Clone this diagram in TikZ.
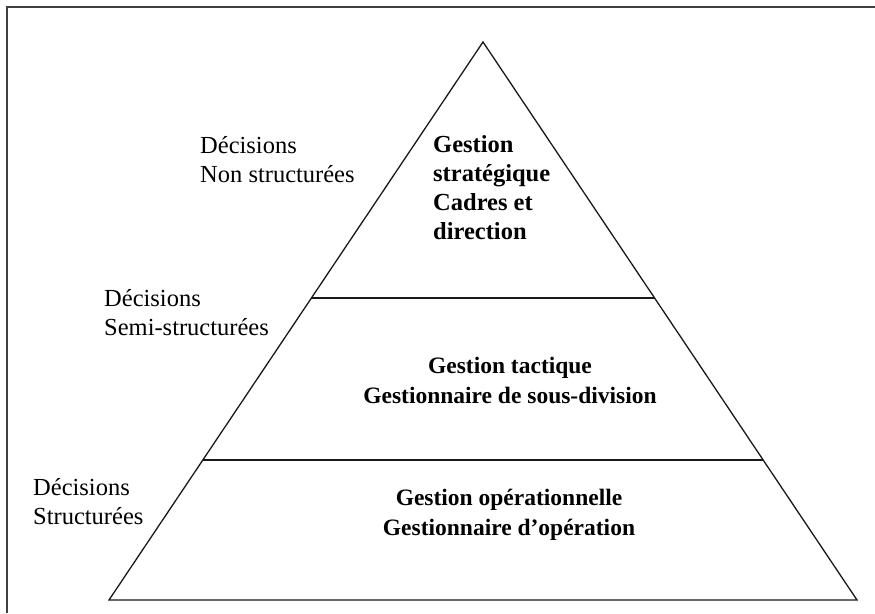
\documentclass[tikz,border=0pt]{standalone}
\usepackage{fontspec}
\setmainfont{Liberation Serif}
\usetikzlibrary{calc}
\begin{document}
\begin{tikzpicture}[x=1pt,y=-1pt,
  frameline/.style={line width=1.2pt,black!75},
  edge/.style={line width=1.3pt,black!90,line join=miter},
  level/.style={line width=1.3pt,black!90},
  side/.style={font=\fontsize{24.5}{29}\selectfont,inner sep=0pt,anchor=base west,align=left},
  title/.style={font=\fontsize{23.5}{29.5}\selectfont\bfseries,inner sep=0pt,anchor=base,align=center},
  titleleft/.style={font=\fontsize{24.5}{29}\selectfont\bfseries,inner sep=0pt,anchor=base west,align=left}]
  \useasboundingbox (0,0) rectangle (875,613);

  % open frame: top and left rules only
  \coordinate (fbl) at (7,613);
  \coordinate (ftl) at (7,7);
  \coordinate (ftr) at (875,7);
  \draw[frameline] (fbl) -- (ftl) -- (ftr);

  % pyramid outline
  \coordinate (apex) at (483,42);
  \coordinate (bl) at (109,600);
  \coordinate (br) at (857,600);
  \draw[edge] (apex) -- (br) -- (bl) -- cycle;

  % level separators
  \coordinate (l1a) at ($(apex)!0.4588!(bl)$);
  \coordinate (l1b) at ($(apex)!0.4588!(br)$);
  \coordinate (l2a) at ($(apex)!0.7491!(bl)$);
  \coordinate (l2b) at ($(apex)!0.7491!(br)$);
  \draw[level] (l1a) -- (l1b);
  \draw[level] (l2a) -- (l2b);

  % decision types (base = last line)
  \node[side] (dtop) at (200,182) {Décisions\\Non structurées};
  \node[side] (dmid) at (104,335) {Décisions\\Semi-structurées};
  \node[side] (dbot) at (33,524) {Décisions\\Structurées};

  % management levels (base = last line)
  \node[titleleft] (gtop) at (433,239) {Gestion\\stratégique\\Cadres et\\direction};
  \node[title] (gmid) at (510,403) {Gestion tactique\\Gestionnaire de sous-division};
  \node[title] (gbot) at (509,535) {Gestion opérationnelle\\Gestionnaire d’opération};
\end{tikzpicture}
\end{document}
